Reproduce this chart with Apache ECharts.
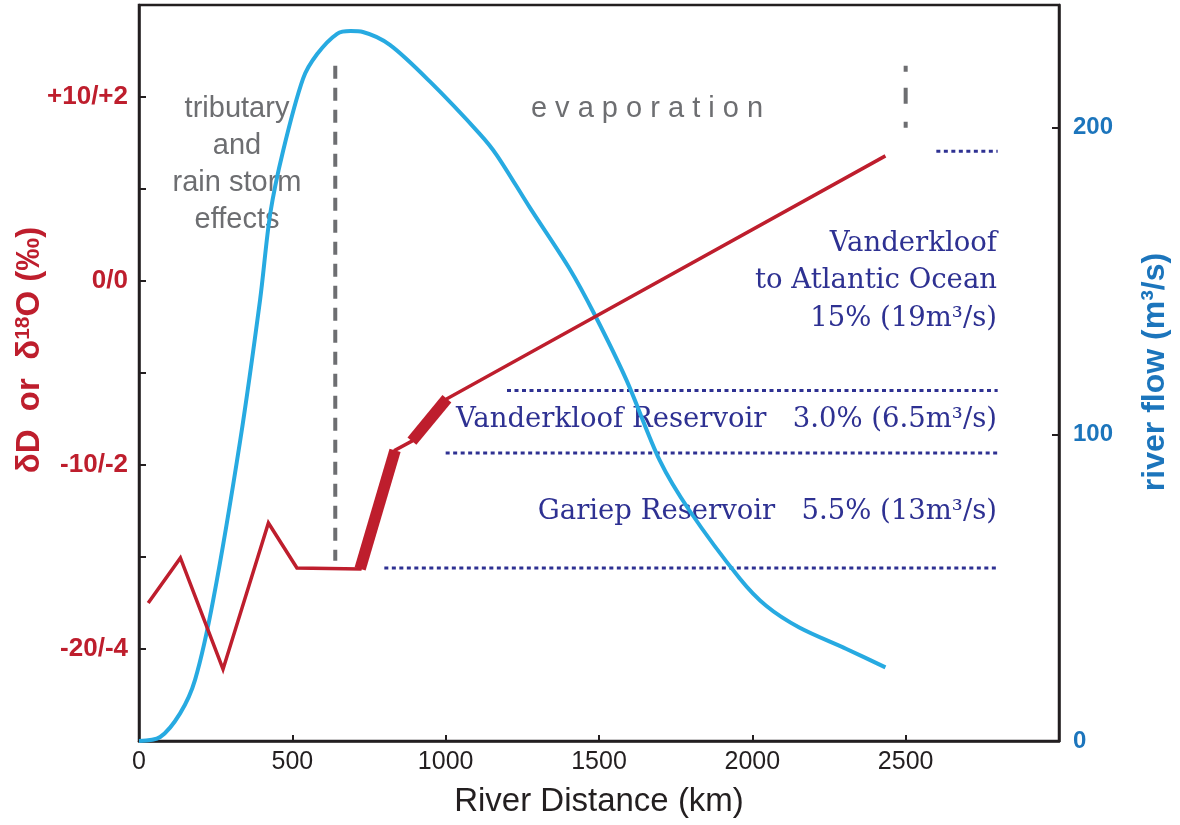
<!DOCTYPE html>
<html>
<head>
<meta charset="utf-8">
<script src="https://cdn.jsdelivr.net/npm/echarts@6/dist/echarts.min.js"></script>
<style>
html,body{margin:0;padding:0;background:#fff;}
#chart{width:1180px;height:825px;}
</style>
</head>
<body>
<div id="chart"></div>
<script>
// ---- data ----
const xTicks = [0, 500, 1000, 1500, 2000, 2500];
const leftTickLabels = {"10": "+10/+2", "0": "0/0", "-10": "-10/-2", "-20": "-20/-4"};
const rightTickLabels = [0, 100, 200];

// river flow (m3/s) along river distance (km)
const flowDistance = [0, 69, 134, 183, 242, 330, 395, 428, 470, 535, 581, 646, 690, 730, 818, 949, 1111, 1167, 1274, 1404, 1486, 1590, 1698, 1796, 1959, 2046, 2153, 2307, 2434];
const flowValue    = [0, 1.3, 9, 20, 46, 98, 144, 172, 192.5, 216, 224, 230.6, 231.5, 231.2, 227, 215, 198, 191, 174, 154, 139, 117.6, 91.5, 75, 53, 44, 37, 30, 24];

// isotope (deltaD / delta18O) along river distance
const isoDistance = [30, 135, 274, 422, 515, 721, 835, 890, 1004, 2434];
const isoValue    = [-17.5, -15.05, -21.1, -13.15, -15.6, -15.65, -9.2, -8.7, -6.4, 6.8];

// reservoir (thick) segments
const gariepDistance = [721, 835];
const gariepIso      = [-15.65, -9.2];
const vanderDistance = [890, 1004];
const vanderIso      = [-8.7, -6.4];

// dotted reference levels
const refLevels = [7.05, -5.95, -9.35, -15.6];
const refStart  = [2600, 1200, 1000, 800];
const refEnd    = 2800;

// dashed dividers
const dividerDistance = [640, 2500];
const dividerTop      = [11.7, 11.7];
const dividerBottom   = [-15.2, 8.3];

// ---- chart ----
const RED = '#be1e2d', BLUE = '#27aae1', AXBLUE = '#1c75bc', NAVY = '#2e3192', GRAY = '#6d6e71', INK = '#231f20';
const chart = echarts.init(document.getElementById('chart'), null, {renderer: 'canvas'});

const series = [];
series.push({
  type: 'line', yAxisIndex: 1, smooth: 0.3, symbol: 'none',
  lineStyle: {color: BLUE, width: 4}, z: 3,
  data: flowDistance.map((d, i) => [d, flowValue[i]])
});
series.push({
  type: 'line', yAxisIndex: 0, symbol: 'none',
  lineStyle: {color: RED, width: 3.5, join: 'miter'}, z: 4,
  data: isoDistance.map((d, i) => [d, isoValue[i]])
});
[[gariepDistance, gariepIso], [vanderDistance, vanderIso]].forEach(([xs, ys]) => {
  series.push({
    type: 'line', yAxisIndex: 0, symbol: 'none',
    lineStyle: {color: RED, width: 11.5, cap: 'butt'}, z: 5,
    data: xs.map((d, i) => [d, ys[i]])
  });
});
refLevels.forEach((lv, i) => {
  series.push({
    type: 'line', yAxisIndex: 0, symbol: 'none',
    lineStyle: {color: NAVY, width: 3, type: [4, 3.5], cap: 'butt'}, z: 2,
    data: [[refStart[i], lv], [refEnd, lv]]
  });
});
const dashPatterns = [[13, 9], [6, 16, 16, 18, 6, 40]];
dividerDistance.forEach((d, i) => {
  series.push({
    type: 'line', yAxisIndex: 0, symbol: 'none',
    lineStyle: {color: GRAY, width: 4, type: dashPatterns[i], cap: 'butt'}, z: 2,
    data: [[d, dividerTop[i]], [d, dividerBottom[i]]]
  });
});

const option = {
  animation: false,
  backgroundColor: '#fff',
  grid: {left: 139, right: 121, top: 5, height: 736, show: true, borderColor: INK, borderWidth: 2.5, backgroundColor: 'transparent'},
  xAxis: {
    type: 'value', min: 0, max: 3000, interval: 500,
    axisLine: {onZero: false, lineStyle: {color: INK, width: 2.5}},
    axisTick: {inside: true, length: 6, lineStyle: {color: INK, width: 2}},
    splitLine: {show: false},
    axisLabel: {
      color: INK, fontSize: 25, fontFamily: 'Liberation Sans, Arial', margin: 9,
      formatter: v => xTicks.indexOf(v) >= 0 ? String(v) : ''
    }
  },
  yAxis: [{
    type: 'value', min: -25, max: 15, interval: 5, position: 'left',
    axisLine: {show: true, onZero: false, lineStyle: {color: INK, width: 2.5}},
    axisTick: {inside: true, length: 7, lineStyle: {color: INK, width: 2}},
    splitLine: {show: false},
    axisLabel: {
      color: RED, fontSize: 26, fontWeight: 'bold', fontFamily: 'Liberation Sans, Arial', margin: 11,
      formatter: v => leftTickLabels[String(v)] || ''
    }
  }, {
    type: 'value', min: 0, max: 240, interval: 100, position: 'right',
    axisLine: {show: true, onZero: false, lineStyle: {color: INK, width: 2.5}},
    axisTick: {inside: true, length: 7, lineStyle: {color: INK, width: 2}},
    splitLine: {show: false},
    axisLabel: {
      color: AXBLUE, fontSize: 24, fontWeight: 'bold', fontFamily: 'Liberation Sans, Arial', margin: 14,
      formatter: v => rightTickLabels.indexOf(v) >= 0 ? String(v) : ''
    }
  }],
  series: series,
  graphic: [
    {type: 'text', x: 599, y: 802, style: {text: 'River Distance (km)', fill: INK, fontSize: 33, fontFamily: 'Liberation Sans, Arial', align: 'center', verticalAlign: 'middle'}},
    {type: 'text', x: 30, y: 350, rotation: Math.PI / 2, style: {
      text: '{a|δD  or  δ}{s|18}{a|O (‰)}', align: 'center', verticalAlign: 'middle',
      rich: {
        a: {fill: RED, fontSize: 33, fontWeight: 'bold', fontFamily: 'Liberation Sans, Arial', lineHeight: 34},
        s: {fill: RED, fontSize: 21, fontWeight: 'bold', fontFamily: 'Liberation Sans, Arial', verticalAlign: 'top', lineHeight: 34, padding: [0, 0, 12, 0]}
      }}},
    {type: 'text', x: 1155, y: 372, rotation: Math.PI / 2, style: {
      text: 'river flow (m³/s)', fill: AXBLUE, fontSize: 32, fontWeight: 'bold', fontFamily: 'Liberation Sans, Arial', align: 'center', verticalAlign: 'middle'}},
    {type: 'text', x: 237, y: 164, style: {text: 'tributary\nand\nrain storm\neffects', fill: GRAY, fontSize: 29, lineHeight: 37, fontFamily: 'Liberation Sans, Arial', align: 'center', verticalAlign: 'middle'}},
    {type: 'text', x: 647, y: 109, style: {text: 'e v a p o r a t i o n', fill: GRAY, fontSize: 29, fontFamily: 'Liberation Sans, Arial', align: 'center', verticalAlign: 'middle'}},
    {type: 'text', x: 997, y: 281, style: {text: 'Vanderkloof\nto Atlantic Ocean\n15% (19m³/s)', fill: NAVY, fontSize: 27.5, lineHeight: 37.5, fontFamily: 'DejaVu Serif', align: 'right', verticalAlign: 'middle'}},
    {type: 'text', x: 997, y: 420, style: {text: 'Vanderkloof Reservoir   3.0% (6.5m³/s)', fill: NAVY, fontSize: 27.5, fontFamily: 'DejaVu Serif', align: 'right', verticalAlign: 'middle'}},
    {type: 'text', x: 997, y: 512, style: {text: 'Gariep Reservoir   5.5% (13m³/s)', fill: NAVY, fontSize: 27.5, fontFamily: 'DejaVu Serif', align: 'right', verticalAlign: 'middle'}}
  ]
};
chart.setOption(option);
</script>
</body>
</html>
